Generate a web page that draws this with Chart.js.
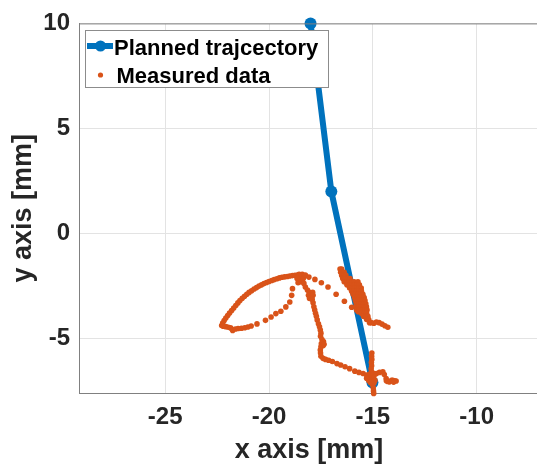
<!DOCTYPE html>
<html>
<head>
<meta charset="utf-8">
<script src="https://cdn.jsdelivr.net/npm/chart.js@4"></script>
<style>
  html, body { margin: 0; padding: 0; background: #fff; overflow: hidden; }
  #wrap { width: 537px; height: 466px; overflow: hidden; }
</style>
</head>
<body>
<div id="wrap"><canvas id="traj" width="545" height="466"></canvas></div>
<script>
const xTicks = [-25, -20, -15, -10];
const yTicks = [-5, 0, 5, 10];

const plannedX = [-18, -17, -15.02];
const plannedY = [10, 2, -7.1];

// measured points as [x, y]
const loopPts = [
  [-18.63,-1.98],[-18.75,-1.99],[-18.87,-2.01],[-19.0,-2.03],[-19.12,-2.05],[-19.25,-2.07],[-19.38,-2.09],
  [-19.5,-2.12],[-19.62,-2.16],[-19.75,-2.2],[-19.87,-2.24],[-20.0,-2.29],[-20.12,-2.34],[-20.24,-2.39],
  [-20.36,-2.45],[-20.48,-2.51],[-20.6,-2.58],[-20.72,-2.65],[-20.84,-2.73],[-20.96,-2.81],[-21.07,-2.9],
  [-21.18,-2.99],[-21.29,-3.09],[-21.4,-3.2],[-21.5,-3.31],[-21.6,-3.43],[-21.7,-3.55],[-21.8,-3.67],
  [-21.9,-3.79],[-21.99,-3.91],[-22.08,-4.03],[-22.16,-4.15],[-22.23,-4.27],[-22.28,-4.39],[-22.2,-4.42],
  [-22.08,-4.44],[-21.96,-4.47],[-21.85,-4.5],[-21.75,-4.62],[-21.62,-4.55],[-21.49,-4.53],[-21.33,-4.52],
  [-21.17,-4.49],[-21.02,-4.46],[-20.86,-4.41],[-20.58,-4.31],[-20.17,-4.14],[-19.9,-3.98],[-19.67,-3.82],
  [-19.43,-3.71],[-19.19,-3.5],[-19.0,-3.27],[-18.91,-2.95],[-18.87,-2.63]
];
const topCluster = [
  [-18.4,-1.95],[-18.5,-2.05],[-18.3,-2.05],[-18.55,-2.2],[-18.45,-2.3],[-18.35,-2.15],[-18.6,-2.35],
  [-18.55,-1.95],[-18.25,-1.98],[-18.65,-2.15]
];
const dottedPts = [
  [-18.08,-2.08],[-17.79,-2.19],[-17.48,-2.35],[-17.16,-2.55],[-16.77,-2.9],[-16.37,-3.23],[-16.02,-3.52],[-15.7,-3.73]
];
const descentPts = [
  [-18.32,-2.38],[-18.25,-2.55],[-18.15,-2.7],[-18.05,-2.8],[-17.95,-2.9],[-18.0,-3.0],[-17.9,-2.8],[-18.1,-2.95],
  [-17.95,-3.05],[-18.05,-3.1],[-17.88,-2.95],
  [-17.92,-3.15],[-17.88,-3.3],[-17.84,-3.49],[-17.8,-3.65],[-17.76,-3.8],[-17.72,-3.95],[-17.68,-4.12],
  [-17.62,-4.3],[-17.57,-4.45],[-17.53,-4.6],[-17.5,-4.75],[-17.52,-4.9],[-17.45,-5.05],[-17.38,-5.15],
  [-17.48,-5.25],[-17.4,-5.35],[-17.5,-5.4],[-17.35,-5.28],[-17.53,-5.55],[-17.52,-5.7],[-17.5,-5.85],[-17.4,-5.95],[-17.28,-6.0],
  [-17.13,-6.04],[-16.95,-6.1],[-16.73,-6.2],[-16.55,-6.27],[-16.34,-6.35],[-16.12,-6.44],[-15.87,-6.56],
  [-15.67,-6.62],[-15.47,-6.67],[-15.3,-6.74]
];
const bottomCluster = [
  [-15.05,-5.7],[-15.06,-5.85],[-15.05,-6.0],[-15.07,-6.15],[-15.06,-6.3],[-15.08,-6.45],[-15.06,-6.6],
  [-15.1,-6.75],[-15.05,-6.9],[-15.0,-7.05],[-15.02,-7.2],[-14.98,-7.35],[-14.97,-7.5],[-14.96,-7.62],
  [-15.25,-6.85],[-15.15,-6.95],[-14.95,-6.8],[-15.2,-7.0],[-14.9,-7.0],[-15.3,-6.9],[-15.15,-6.7],
  [-15.0,-6.65],[-14.95,-7.12],[-15.12,-7.1],
  [-14.83,-6.67],[-14.68,-6.62],[-14.52,-6.59],[-14.45,-6.72],[-14.36,-6.91],[-14.28,-7.05],[-14.2,-7.07],
  [-14.1,-7.0],[-14.04,-6.99],[-13.95,-7.02],[-13.88,-7.03],[-14.0,-7.08],[-14.35,-7.02]
];
const blobPts = [
  [-16.58,-1.7],[-16.5,-1.7],
  [-16.55,-1.85],[-16.45,-1.85],[-16.38,-1.85],
  [-16.5,-2.0],[-16.4,-2.0],[-16.3,-2.0],
  [-16.45,-2.15],[-16.33,-2.15],[-16.21,-2.15],[-16.1,-2.15],
  [-16.38,-2.3],[-16.26,-2.3],[-16.14,-2.3],[-16.02,-2.3],[-15.9,-2.3],[-15.72,-2.3],
  [-16.25,-2.45],[-16.13,-2.45],[-16.01,-2.45],[-15.89,-2.45],[-15.77,-2.45],[-15.65,-2.45],
  [-16.12,-2.6],[-16.0,-2.6],[-15.88,-2.6],[-15.76,-2.6],[-15.64,-2.6],[-15.56,-2.6],
  [-16.02,-2.75],[-15.9,-2.75],[-15.78,-2.75],[-15.66,-2.75],[-15.55,-2.75],
  [-15.95,-2.9],[-15.83,-2.9],[-15.71,-2.9],[-15.59,-2.9],[-15.48,-2.9],
  [-15.88,-3.05],[-15.76,-3.05],[-15.64,-3.05],[-15.52,-3.05],[-15.42,-3.05],
  [-15.84,-3.2],[-15.72,-3.2],[-15.6,-3.2],[-15.48,-3.2],[-15.38,-3.2],
  [-15.8,-3.35],[-15.68,-3.35],[-15.56,-3.35],[-15.44,-3.35],[-15.34,-3.35],
  [-15.8,-3.5],[-15.68,-3.5],[-15.56,-3.5],[-15.44,-3.5],[-15.31,-3.5],
  [-15.78,-3.65],[-15.64,-3.65],[-15.5,-3.65],[-15.38,-3.65],[-15.28,-3.65],
  [-15.55,-3.8],[-15.42,-3.8],[-15.3,-3.8],
  [-15.45,-3.95],[-15.34,-3.95],[-15.24,-3.95],
  [-15.3,-4.1],[-15.2,-4.1],
  [-15.16,-4.25],[-15.08,-4.25],
  [-14.95,-4.28],[-14.83,-4.22],[-14.7,-4.25],[-14.56,-4.32],[-14.42,-4.4],[-14.28,-4.47]
];

const BLUE = '#0072bd';
const ORANGE = '#d95319';
const TEXT = '#262626';
const FONT = "'Liberation Sans', Arial, sans-serif";

const measured = [].concat(loopPts, topCluster, dottedPts, descentPts, bottomCluster, blobPts);

// top edge of the box plus the legend, drawn over the data like MATLAB does
const boxAndLegend = {
  id: 'boxAndLegend',
  afterDraw(chart) {
    const { ctx, chartArea } = chart;
    ctx.save();
    ctx.strokeStyle = '#808080';
    ctx.lineWidth = 1;
    ctx.beginPath();
    ctx.moveTo(chartArea.left, chartArea.top + 0.5);
    ctx.lineTo(chartArea.right, chartArea.top + 0.5);
    ctx.stroke();

    ctx.fillStyle = '#fff';
    ctx.fillRect(85.5, 30.5, 243, 57);
    ctx.strokeStyle = '#8c8c8c';
    ctx.strokeRect(85.5, 30.5, 243, 57);

    ctx.strokeStyle = BLUE;
    ctx.lineWidth = 6;
    ctx.beginPath();
    ctx.moveTo(87, 46);
    ctx.lineTo(113, 46);
    ctx.stroke();
    ctx.fillStyle = BLUE;
    ctx.beginPath();
    ctx.arc(100.5, 46, 5.5, 0, Math.PI * 2);
    ctx.fill();

    ctx.fillStyle = ORANGE;
    ctx.beginPath();
    ctx.arc(100.5, 75, 2.6, 0, Math.PI * 2);
    ctx.fill();

    ctx.fillStyle = '#000';
    ctx.font = `bold 22px ${FONT}`;
    ctx.textBaseline = 'alphabetic';
    ctx.fillText('Planned trajcectory', 114, 55);
    ctx.fillText('Measured data', 116.5, 82.5);
    ctx.restore();
  }
};

new Chart(document.getElementById('traj'), {
  type: 'scatter',
  data: {
    datasets: [
      {
        label: 'Planned trajcectory',
        data: plannedX.map((x, i) => ({ x, y: plannedY[i] })),
        showLine: true,
        borderColor: BLUE,
        backgroundColor: BLUE,
        borderWidth: 6,
        pointRadius: 6,
        pointBorderWidth: 0,
        clip: false,
        order: 2
      },
      {
        label: 'Measured data',
        data: measured.map(p => ({ x: p[0], y: p[1] })),
        backgroundColor: ORANGE,
        borderColor: ORANGE,
        pointRadius: 2.8,
        pointBorderWidth: 0,
        clip: false,
        order: 1
      }
    ]
  },
  options: {
    responsive: false,
    animation: false,
    layout: { padding: { top: 23, left: 0, right: 0, bottom: 0 } },
    plugins: { legend: { display: false }, tooltip: { enabled: false } },
    scales: {
      x: {
        type: 'linear',
        min: -29.15,
        max: -7,
        afterBuildTicks: s => { s.ticks = xTicks.map(v => ({ value: v })); },
        afterFit: s => { s.height = 73; },
        grid: { color: '#e3e3e3', drawTicks: false },
        border: { color: '#808080', width: 1 },
        ticks: { color: TEXT, padding: 10, font: { family: FONT, size: 24, weight: 'bold' } },
        title: {
          display: true,
          text: 'x axis [mm]',
          color: TEXT,
          padding: { top: 0, bottom: 2 },
          font: { family: FONT, size: 27, weight: 'bold', lineHeight: 1 }
        }
      },
      y: {
        type: 'linear',
        min: -7.6,
        max: 10,
        afterBuildTicks: s => { s.ticks = yTicks.map(v => ({ value: v })); },
        afterFit: s => { s.width = 79; },
        grid: { color: '#e3e3e3', drawTicks: false },
        border: { color: '#808080', width: 1 },
        ticks: { color: TEXT, padding: 9, font: { family: FONT, size: 24, weight: 'bold' } },
        title: {
          display: true,
          text: 'y axis [mm]',
          color: TEXT,
          padding: { top: 10.5, bottom: 0 },
          font: { family: FONT, size: 27, weight: 'bold', lineHeight: 1 }
        }
      }
    }
  },
  plugins: [boxAndLegend]
});
</script>
</body>
</html>
